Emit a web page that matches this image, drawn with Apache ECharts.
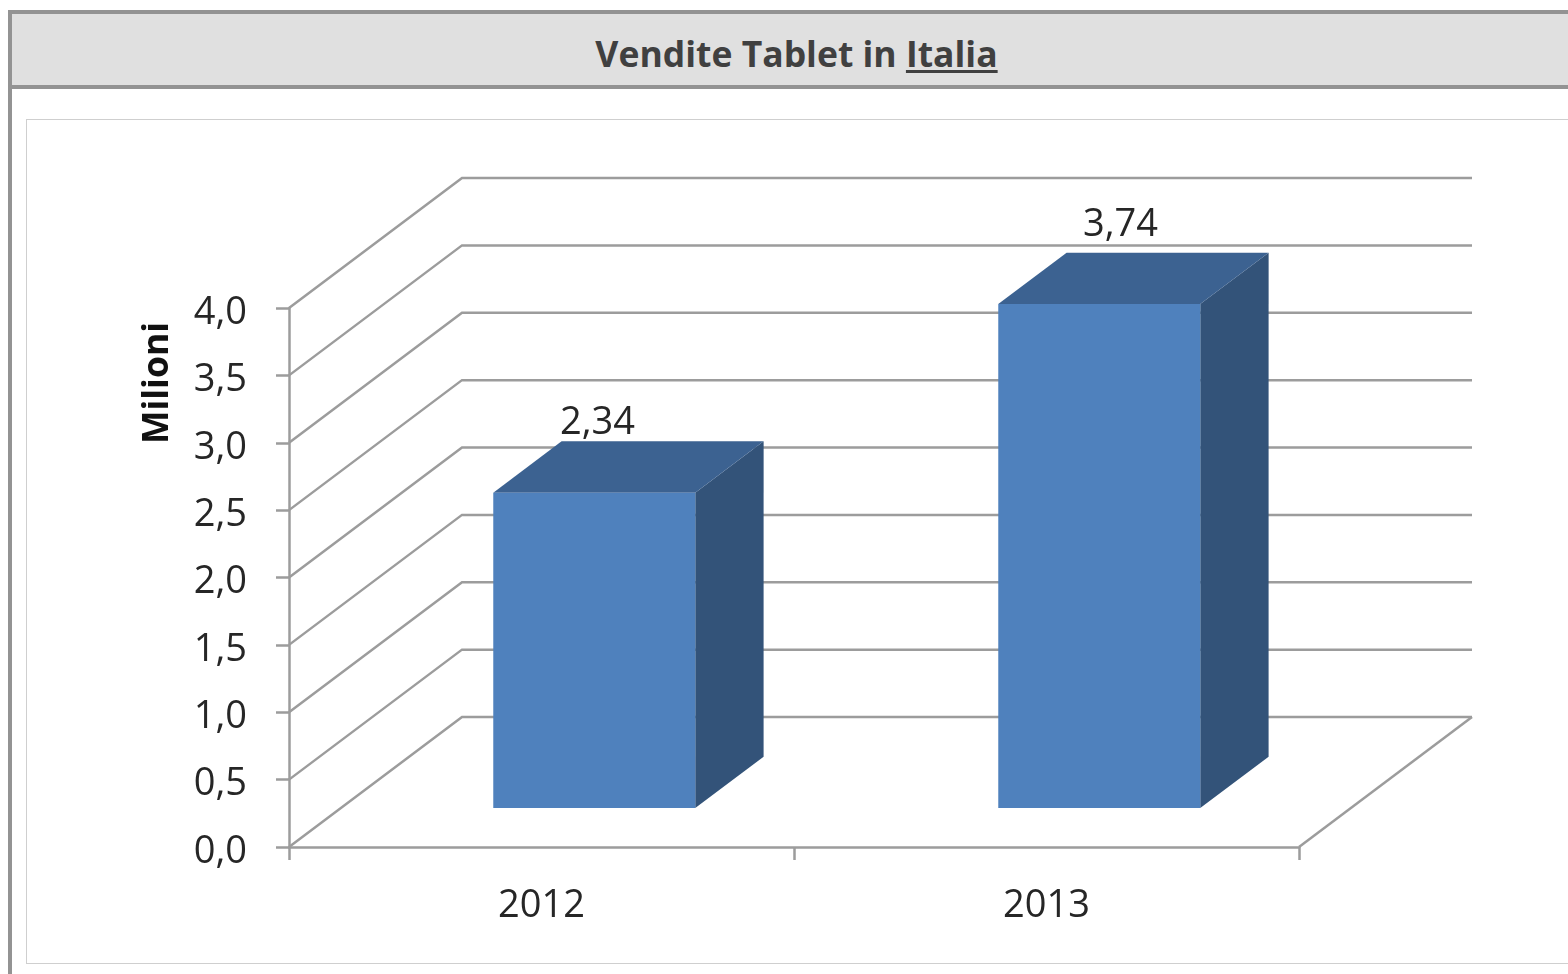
<!DOCTYPE html>
<html>
<head>
<meta charset="utf-8">
<title>Vendite Tablet in Italia</title>
<script src="https://cdn.jsdelivr.net/npm/echarts@6/dist/echarts.min.js"></script>
<style>
  html, body { margin: 0; padding: 0; background: #fff; overflow: hidden; }
  #page { position: relative; width: 1568px; height: 974px; overflow: hidden; filter: blur(0.5px); }
  #header {
    position: absolute; left: 8px; top: 10px; width: 1560px; height: 71px;
    background: #e0e0e0; border: 4px solid #939393; border-right: 0; box-sizing: content-box;
    font: bold 35.5px/79px "Open Sans", sans-serif; color: #404040; text-align: center;
    text-indent: 9px;
  }
  #leftline { position: absolute; left: 8px; top: 89px; width: 4px; height: 885px; background: #939393; }
  #box { position: absolute; left: 26px; top: 119px; width: 1560px; height: 843px; border: 1.5px solid #cfcfcf; }
  #chart { position: absolute; left: 0; top: 0; width: 1568px; height: 974px; }
  u { text-underline-offset: 3px; }
</style>
</head>
<body>
<div id="page">
  <div id="header">Vendite Tablet in <u>Italia</u></div>
  <div id="leftline"></div>
  <div id="box"></div>
  <div id="chart"></div>
</div>
<script>
var categories = ['2012', '2013'];
var vendite = [2.34, 3.74];
var valueLabels = ['2,34', '3,74'];
var yTicks = [0, 0.5, 1, 1.5, 2, 2.5, 3, 3.5, 4];

// finta prospettiva excel, in pixel
var depthX = 173, depthY = 130;
var labelShift = [[-31, -18], [-13, -28]];
var gridColor = '#9c9c9c';
var textColor = '#262626';
var fontName = '"Open Sans", sans-serif';

function wallItem(params, api) {
    var p = api.coord([0, api.value(1)]);
    var grid = params.coordSys;
    var x0 = grid.x, x1 = grid.x + grid.width;
    var style = { stroke: gridColor, lineWidth: 2.5, fill: null };
    var children = [{
        type: 'polyline',
        shape: { points: [[x0, p[1]], [x0 + depthX, p[1] - depthY], [x1 + depthX, p[1] - depthY]] },
        style: style
    }];
    if (api.value(1) === 0) {
        children.push({
            type: 'line',
            shape: { x1: x1, y1: p[1], x2: x1 + depthX, y2: p[1] - depthY },
            style: style
        });
    }
    return { type: 'group', children: children };
}

function barItem(params, api) {
    var i = api.value(0);
    var base = api.coord([i, 0]);
    var top = api.coord([i, api.value(1)]);
    var band = api.size([1, 0])[0];
    var w = band * 0.4;
    var x = base[0] - w / 2 + depthX * 0.305;
    var off = depthY * 0.3;
    var yb = base[1] - off, yt = top[1] - off;
    var dx = depthX * 0.395, dy = depthY * 0.395;
    return {
        type: 'group',
        children: [
            { type: 'polygon', shape: { points: [[x + w, yb], [x + w + dx, yb - dy], [x + w + dx, yt - dy], [x + w, yt]] }, style: { fill: '#335379' } },
            { type: 'polygon', shape: { points: [[x, yt], [x + dx, yt - dy], [x + w + dx, yt - dy], [x + w, yt]] }, style: { fill: '#3c6291' } },
            { type: 'rect', shape: { x: x, y: yt, width: w, height: yb - yt }, style: { fill: '#4f81bd' } },
            {
                type: 'text',
                x: x + w / 2 + dx / 2 + labelShift[i][0],
                y: yt - dy + labelShift[i][1],
                style: { text: valueLabels[i], font: '38px ' + fontName, fill: textColor, align: 'center', verticalAlign: 'middle' }
            }
        ]
    };
}

var myChart = echarts.init(document.getElementById('chart'));

var option = {
    animation: false,
    grid: { left: 289, right: 269, top: 308, bottom: 127 },
    xAxis: {
        type: 'category',
        data: categories,
        axisLine: { lineStyle: { color: gridColor, width: 2.5 } },
        axisTick: { show: true, alignWithLabel: false, length: 13, lineStyle: { color: gridColor, width: 2.5 } },
        axisLabel: { margin: 40, fontFamily: fontName, fontSize: 38, color: textColor }
    },
    yAxis: {
        type: 'value',
        min: 0,
        max: 4,
        interval: 0.5,
        splitLine: { show: false },
        axisLine: { show: true, lineStyle: { color: gridColor, width: 2.5 } },
        axisTick: { show: true, length: 13, lineStyle: { color: gridColor, width: 2.5 } },
        axisLabel: {
            margin: 42,
            formatter: function (v) { return '{t|' + v.toFixed(1).replace('.', ',') + '}'; },
            rich: {
                // spinge il testo qualche pixel sotto la tacca
                t: { padding: [10, 0, 0, 0], fontFamily: fontName, fontSize: 38, color: textColor }
            }
        }
    },
    graphic: [{
        type: 'text',
        x: 158,
        y: 383,
        rotation: Math.PI / 2,
        style: { text: 'Milioni', font: 'bold 35.5px ' + fontName, fill: '#111', align: 'center', verticalAlign: 'middle' }
    }],
    series: [{
        type: 'custom',
        renderItem: wallItem,
        data: yTicks.map(function (v) { return [0, v]; }),
        clip: false,
        silent: true,
        z: 1
    }, {
        type: 'custom',
        renderItem: barItem,
        data: vendite.map(function (v, i) { return [i, v]; }),
        clip: false,
        silent: true,
        z: 3
    }]
};

myChart.setOption(option);
</script>
</body>
</html>
